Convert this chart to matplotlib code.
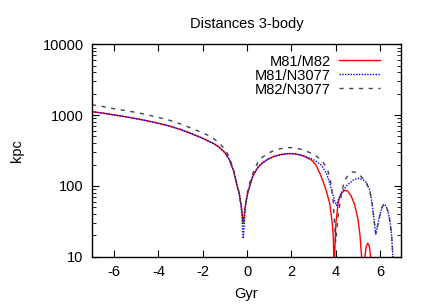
import matplotlib
matplotlib.use("Agg")
import matplotlib.pyplot as plt
from matplotlib.ticker import LogLocator, NullFormatter, FixedLocator

plt.rcParams['font.family'] = ['Liberation Sans', 'DejaVu Sans']

# M81/M82 distance (kpc) vs time (Gyr)
t_m81_m82 = [-7.0, -6.5, -6.0, -5.5, -5.0, -4.5, -4.0, -3.5, -3.0, -2.5, -2.0, -1.75,
             -1.5, -1.25, -1.0, -0.8, -0.69, -0.6, -0.46, -0.35, -0.26, -0.17, -0.08,
             0.02, 0.135, 0.25, 0.4, 0.51, 0.7, 0.96, 1.2, 1.5, 1.8, 2.0, 2.2, 2.4, 2.6,
             2.8, 2.9, 3.1, 3.29, 3.42, 3.59, 3.74, 3.86, 3.9, 3.93, 3.96, 4.01, 4.12,
             4.25, 4.41, 4.55, 4.7, 4.85, 5.0, 5.1, 5.17, 5.2, 5.25, 5.32, 5.38, 5.45,
             5.52, 5.58, 5.62]
d_m81_m82 = [1120, 1065, 1005, 950, 890, 830, 765, 700, 625, 545, 470, 430,
             395, 350, 295, 235, 190, 160, 103, 78, 52, 30, 52,
             78, 103, 135, 165, 186, 212, 240, 260, 276, 285, 286, 282, 273, 260,
             242, 232, 200, 150, 118, 83, 55, 27, 17, 5, 12, 30, 60,
             78, 87, 84, 72, 55, 35, 20, 10, 5, 5, 10, 14, 15.5,
             14, 10, 5]

# M81/N3077
t_m81_n3077 = [-7.0, -6.5, -6.0, -5.5, -5.0, -4.5, -4.0, -3.5, -3.0, -2.5, -2.0, -1.75,
               -1.5, -1.25, -1.0, -0.8, -0.69, -0.6, -0.46, -0.35, -0.26, -0.17, -0.08,
               0.02, 0.135, 0.25, 0.4, 0.51, 0.7, 0.96, 1.2, 1.5, 1.8, 2.0, 2.2, 2.4, 2.6,
               2.8, 2.9, 3.1, 3.36, 3.59, 3.81, 3.96, 4.04, 4.15, 4.3, 4.49, 4.79, 5.0,
               5.2, 5.39, 5.54, 5.65, 5.75, 5.81, 5.9, 5.99, 6.1, 6.17, 6.27, 6.37, 6.45,
               6.52, 6.57, 6.6]
d_m81_n3077 = [1120, 1065, 1005, 950, 890, 830, 765, 700, 625, 545, 470, 430,
               395, 350, 295, 235, 190, 160, 103, 76, 48, 18, 48,
               76, 103, 135, 165, 186, 212, 240, 260, 276, 285, 286, 282, 274, 262,
               248, 243, 225, 195, 150, 90, 60, 53, 68, 84, 100, 121, 128,
               124, 112, 87, 55, 30, 21, 28, 38, 50, 55, 52, 43, 32,
               21, 12, 6]

# M82/N3077
t_m82_n3077 = [-7.0, -6.5, -6.0, -5.5, -5.0, -4.5, -4.0, -3.5, -3.0, -2.5, -2.0, -1.75,
               -1.5, -1.25, -1.0, -0.8, -0.69, -0.6, -0.46, -0.35, -0.26, -0.17, -0.08,
               0.02, 0.135, 0.3, 0.51, 0.7, 0.96, 1.26, 1.5, 1.7, 1.94, 2.2, 2.5, 2.91,
               3.15, 3.36, 3.5, 3.66, 3.81, 3.9, 3.96, 4.0, 4.05, 4.12, 4.19, 4.27, 4.34,
               4.45, 4.56, 4.68, 4.79, 4.95, 5.09, 5.25, 5.39, 5.54, 5.65, 5.75, 5.81,
               5.9, 5.99, 6.1, 6.17, 6.27, 6.37, 6.45, 6.52, 6.57, 6.6]
d_m82_n3077 = [1400, 1320, 1230, 1160, 1090, 1010, 925, 845, 750, 650, 560, 515,
               465, 400, 330, 255, 200, 165, 108, 78, 50, 28, 52,
               82, 115, 160, 225, 255, 290, 321, 335, 343, 348, 343, 325, 289,
               260, 232, 200, 160, 100, 55, 25, 16, 24, 40, 55, 80, 100,
               125, 142, 153, 158, 153, 142, 125, 108, 87, 55, 30, 21,
               28, 38, 50, 55, 52, 43, 32, 21, 12, 6]

x_ticks = [-6, -4, -2, 0, 2, 4, 6]
y_ticks = [10, 100, 1000, 10000]

fig = plt.figure(figsize=(4.36, 3.05), dpi=100)
ax = fig.add_axes([92 / 436, 1 - 256.7 / 305, (401 - 92) / 436, (256.7 - 44.3) / 305])

ax.plot(t_m81_m82, d_m81_m82, color='#ff0000', lw=1.0, label='M81/M82')
ax.plot(t_m81_n3077, d_m81_n3077, color='#0000ff', lw=1.0, ls=(0, (1, 1)), label='M81/N3077')
ax.plot(t_m82_n3077, d_m82_n3077, color='#444444', lw=1.0, ls=(0, (3, 4)), label='M82/N3077')

ax.set_yscale('log')
ax.set_xlim(-7, 6.95)
ax.set_ylim(10, 10000)
ax.xaxis.set_major_locator(FixedLocator(x_ticks))
ax.set_xticklabels([str(v) for v in x_ticks])
ax.yaxis.set_major_locator(FixedLocator(y_ticks))
ax.set_yticklabels([str(v) for v in y_ticks])
ax.yaxis.set_minor_locator(LogLocator(base=10, subs=range(2, 10)))
ax.yaxis.set_minor_formatter(NullFormatter())

ax.tick_params(which='both', direction='in', top=True, right=True, labelsize=10.5, pad=6)
ax.tick_params(which='major', length=5, width=0.8)
ax.tick_params(which='minor', length=3, width=0.6)
for s in ax.spines.values():
    s.set_linewidth(1.0)

ax.set_title('Distances 3-body', fontsize=10.5, pad=12)
ax.set_xlabel('Gyr', fontsize=10.5, labelpad=6)
ax.set_ylabel('kpc', fontsize=10.5, labelpad=13)

ax.legend(loc='upper right', bbox_to_anchor=(0.965, 1.0), frameon=False, markerfirst=False,
          fontsize=10.5, handlelength=2.8, handletextpad=0.6, labelspacing=0.0, borderpad=0.2)

fig.savefig('out.png', dpi=100)
